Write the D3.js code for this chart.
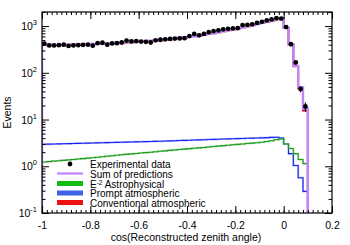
<!DOCTYPE html>
<html><head><meta charset="utf-8">
<script src="https://cdn.jsdelivr.net/npm/d3@7"></script>
<style>body{margin:0;background:#fff}svg{display:block}text{font-family:"Liberation Sans",Arial,Helvetica,sans-serif;fill:#000}</style>
</head><body>
<svg id="c" width="350" height="245"></svg>
<script>
// bin edges: -1 .. 0.1, width 0.02
const binLow = d3.range(55).map(i => +(-1 + i*0.02).toFixed(2));
const binWidth = 0.02;
const dataCounts = [420,385,385,390,400,375,385,390,395,400,
  380,430,440,400,425,430,445,490,470,475,
  465,460,445,495,510,520,530,540,545,550,
  610,680,635,680,740,780,810,850,875,890,
  900,1050,1060,1090,1170,1230,1320,1390,1470,1450,
  950,408,166,45,19];
const sumPred = [400,395,395,395,395,398,400,402,405,408,
  412,416,420,425,430,436,442,448,455,462,
  470,478,486,495,505,515,527,540,555,570,
  588,608,630,655,682,712,745,780,818,858,
  900,945,995,1050,1110,1175,1245,1320,1410,1470,
  920,410,141,49,17];
const conventional = [396,391,391,391,391,394,396,398,401,403,
  407,411,415,420,425,431,437,443,450,457,
  465,473,481,490,500,510,522,534,549,564,
  582,602,624,649,676,706,739,774,812,852,
  894,939,988,1043,1103,1168,1237,1312,1402,1462,
  914,406,138,47,15.6];
const astro = [1.23,1.26,1.29,1.31,1.34,1.37,1.40,1.43,1.46,1.49,
  1.52,1.56,1.60,1.64,1.68,1.72,1.76,1.80,1.84,1.88,
  1.92,1.96,2.00,2.04,2.09,2.14,2.19,2.23,2.28,2.33,
  2.38,2.43,2.48,2.53,2.58,2.64,2.70,2.76,2.82,2.88,
  2.94,3.00,3.06,3.12,3.19,3.26,3.38,3.52,3.70,3.85,
  3.0,2.4,1.86,1.4,1.14];
const prompt = [2.95,2.97,2.99,3.01,3.03,3.05,3.07,3.09,3.11,3.13,
  3.15,3.17,3.19,3.21,3.23,3.25,3.27,3.29,3.31,3.33,
  3.35,3.37,3.39,3.41,3.43,3.46,3.49,3.52,3.55,3.58,
  3.61,3.64,3.67,3.70,3.73,3.76,3.79,3.82,3.85,3.88,
  3.91,3.94,3.97,4.00,4.03,4.06,4.10,4.15,4.18,4.00,
  3.0,1.86,1.04,0.57,0.29];
const xTicks = [-1,-0.8,-0.6,-0.4,-0.2,0,0.2];
const xTickLabels = ["-1","-0.8","-0.6","-0.4","-0.2","0","0.2"];
const yDecades = [0.1,1,10,100,1000];
const yExponents = ["-1","0","1","2","3"];
const legendLabels = ["Experimental data","Sum of predictions","Astrophysical","Prompt atmospheric","Conventional atmospheric"];

const L=42,R=332,T=12,B=213;
const svg = d3.select("#c");
const x = d3.scaleLinear().domain([-1,0.2]).range([L,R]);
const y = d3.scaleLog().domain([0.1,2000]).range([B,T]);

svg.append("clipPath").attr("id","clip").append("rect").attr("x",L).attr("y",T).attr("width",R-L).attr("height",B-T);
const plot = svg.append("g").attr("clip-path","url(#clip)");

function histPath(vals){
  const pts=[[x(binLow[0]),B+5]];
  vals.forEach((v,i)=>{pts.push([x(binLow[i]),y(v)]);pts.push([x(binLow[i]+binWidth),y(v)]);});
  pts.push([x(binLow[vals.length-1]+binWidth),B+5]);
  return d3.line()(pts);
}
plot.append("path").attr("d",histPath(conventional)).attr("fill","none").attr("stroke","#ee0000").attr("stroke-width",2);
plot.append("path").attr("d",histPath(prompt)).attr("fill","none").attr("stroke","#8fa0ff").attr("stroke-width",2).attr("opacity",0.6);
plot.append("path").attr("d",histPath(prompt)).attr("fill","none").attr("stroke","#1a22ee").attr("stroke-width",1.1);
plot.append("path").attr("d",histPath(astro)).attr("fill","none").attr("stroke","#8fd08f").attr("stroke-width",2).attr("opacity",0.6);
plot.append("path").attr("d",histPath(astro)).attr("fill","none").attr("stroke","#1f9a1f").attr("stroke-width",1.1);
plot.append("path").attr("d",histPath(sumPred)).attr("fill","none").attr("stroke","#c084ff").attr("stroke-width",2.4);

// data error bars + points
const cx = i => x(binLow[i]+binWidth/2);
plot.selectAll("line.err").data(dataCounts).join("line")
  .attr("x1",(d,i)=>cx(i)).attr("x2",(d,i)=>cx(i))
  .attr("y1",d=>y(d+Math.sqrt(d))).attr("y2",d=>y(Math.max(d-Math.sqrt(d),0.11)))
  .attr("stroke","#000").attr("stroke-width",1);
plot.selectAll("circle.pt").data(dataCounts).join("circle")
  .attr("cx",(d,i)=>cx(i)).attr("cy",d=>y(d)).attr("r",2.4).attr("fill","#000");

// axes
const axG = svg.append("g");
const minorX = d3.range(61).map(i=>-1+i*0.02);
axG.append("g").attr("transform",`translate(0,${B})`).call(d3.axisBottom(x).tickValues(minorX).tickSize(-3).tickFormat(""));
axG.append("g").attr("transform",`translate(0,${B})`).call(d3.axisBottom(x).tickValues(xTicks).tickSize(-7).tickPadding(9).tickFormat((d,i)=>xTickLabels[i]));
axG.append("g").attr("transform",`translate(0,${T})`).call(d3.axisTop(x).tickValues(minorX).tickSize(-3).tickFormat(""));
axG.append("g").attr("transform",`translate(0,${T})`).call(d3.axisTop(x).tickValues(xTicks).tickSize(-7).tickFormat(""));
const minorY=[];
[0.1,1,10,100,1000].forEach(d=>{for(let k=2;k<=9;k++){const v=d*k; if(v<=2000) minorY.push(v);}});
axG.append("g").attr("transform",`translate(${L},0)`).call(d3.axisLeft(y).tickValues(minorY).tickSize(-3.5).tickFormat(""));
axG.append("g").attr("transform",`translate(${L},0)`).call(d3.axisLeft(y).tickValues(yDecades).tickSize(-7).tickFormat(""));
axG.append("g").attr("transform",`translate(${R},0)`).call(d3.axisRight(y).tickValues(minorY).tickSize(-3.5).tickFormat(""));
axG.append("g").attr("transform",`translate(${R},0)`).call(d3.axisRight(y).tickValues(yDecades).tickSize(-7).tickFormat(""));
axG.selectAll(".domain").remove();
axG.selectAll(".tick line").attr("stroke","#000");
axG.selectAll(".tick text").attr("font-size","10.5px").attr("font-family","Liberation Sans, Arial, sans-serif").attr("fill","#000");
svg.append("rect").attr("x",L).attr("y",T).attr("width",R-L).attr("height",B-T).attr("fill","none").attr("stroke","#000").attr("stroke-width",1.2);

// y labels
yDecades.forEach((d,i)=>{
  const t = svg.append("text").attr("x",L-5).attr("y",y(d)+4).attr("text-anchor","end").attr("font-size","10.5px");
  t.append("tspan").text("10");
  t.append("tspan").attr("dy",-5).attr("font-size","7.5px").text(yExponents[i]);
});

// axis titles
svg.append("text").attr("x",186).attr("y",241).attr("text-anchor","middle").attr("font-size","10.5px").text("cos(Reconstructed zenith angle)");
svg.append("text").attr("transform",`translate(11,${(T+B)/2}) rotate(-90)`).attr("text-anchor","middle").attr("font-size","10.5px").text("Events");

// legend
const lg = svg.append("g");
const rows=[164,173.5,183.5,193,202.5];
const sx0=57, sx1=83, tx=90;
lg.append("circle").attr("cx",70).attr("cy",rows[0]).attr("r",2.4).attr("fill","#000");
lg.append("line").attr("x1",sx0).attr("x2",sx1).attr("y1",rows[1]).attr("y2",rows[1]).attr("stroke","#c084ff").attr("stroke-width",2.2);
lg.append("rect").attr("x",sx0).attr("y",rows[2]-2.5).attr("width",sx1-sx0).attr("height",5).attr("fill","#11bb11");
lg.append("rect").attr("x",sx0).attr("y",rows[3]-2.5).attr("width",sx1-sx0).attr("height",5).attr("fill","#3f63e6");
lg.append("rect").attr("x",sx0).attr("y",rows[4]-2.5).attr("width",sx1-sx0).attr("height",5).attr("fill","#ee1111");
legendLabels.forEach((s,i)=>{
  const t = lg.append("text").attr("x",tx).attr("y",rows[i]+4).attr("font-size","10px");
  if(i===2){
    t.append("tspan").text("E");
    t.append("tspan").attr("dy",-3).attr("font-size","6.5px").text("-2");
    t.append("tspan").attr("dy",3).text(" "+s);
  } else t.text(s);
});
</script>
</body></html>
